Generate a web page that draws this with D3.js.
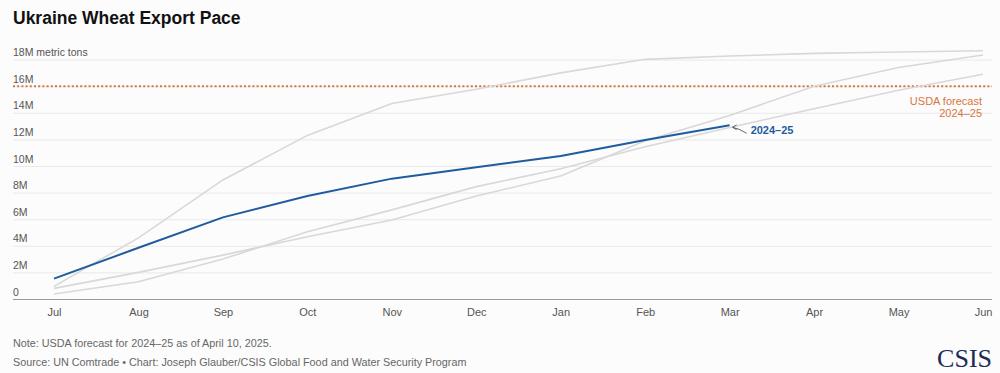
<!DOCTYPE html>
<html>
<head>
<meta charset="utf-8">
<script src="https://cdn.jsdelivr.net/npm/d3@7"></script>
<style>
	body { margin: 0; background: #fcfcfc; }
	svg { display: block; font-family: "Liberation Sans", Arial, sans-serif; }
	.grid line { stroke: #e9e9e9; }
	.grid text { fill: #555; font-size: 10.5px; }
	.xaxis text { fill: #555; font-size: 11px; }
	.foot { fill: #666; font-size: 10.8px; }
</style>
</head>
<body>
<div id="viz"></div>
<script>
// months of the marketing year
var months = ['Jul','Aug','Sep','Oct','Nov','Dec','Jan','Feb','Mar','Apr','May','Jun'];

// cumulative exports, million metric tons
var current = [1.53, 3.85, 6.14, 7.74, 9.05, 9.9, 10.75, 11.95, 13.06];
var pastA = [0.95, 4.6, 8.95, 12.3, 14.7, 15.77, 17.0, 18.02, 18.27, 18.47, 18.57, 18.67];
var pastB = [0.38, 1.3, 3.0, 5.06, 6.7, 8.45, 9.8, 11.45, 12.9, 14.3, 15.7, 16.9];
var pastC = [0.8, 2.0, 3.3, 4.68, 5.94, 7.74, 9.25, 11.9, 13.8, 16.0, 17.4, 18.35];
var forecast = 16;

var yTicks = [0, 2, 4, 6, 8, 10, 12, 14, 16, 18];

buildViz();

function buildViz(){

	var width = 1000,
			height = 373,
			left = 13,
			right = 992;

	var svg = d3.select('#viz')
		.append('svg')
		.attr('width', width)
		.attr('height', height);

	var x = d3.scalePoint()
		.domain(months)
		.range([54, 983]);

	var y = d3.scaleLinear()
		.domain([0, 18])
		.range([299, 59.6]);

	// title
	svg.append('text')
		.attr('x', left)
		.attr('y', 24)
		.style('font-size', '17.5px')
		.style('font-weight', 'bold')
		.style('fill', '#111')
		.text('Ukraine Wheat Export Pace');

	// grid + y labels
	var grid = svg.append('g')
		.attr('class', 'grid')
		.attr('transform', 'translate(' + right + ',0)')
		.call(d3.axisLeft(y)
			.tickValues(yTicks)
			.tickSize(right - left)
			.tickFormat(function(d){
				if (d === 0) return '0';
				if (d === 18) return '18M metric tons';
				return d + 'M';
			}));
	grid.select('.domain').remove();
	grid.selectAll('.tick text')
		.attr('x', -(right - left))
		.attr('dy', -4)
		.attr('text-anchor', 'start');
	grid.selectAll('.tick line')
		.filter(function(d){ return d === 0; })
		.remove();

	// x axis
	var xAxis = svg.append('g')
		.attr('class', 'xaxis')
		.attr('transform', 'translate(0,' + y(0) + ')')
		.call(d3.axisBottom(x).tickSize(0).tickPadding(9));
	xAxis.select('.domain').remove();
	xAxis.append('line')
		.attr('x1', left)
		.attr('x2', right)
		.attr('y1', 0.5)
		.attr('y2', 0.5)
		.style('stroke', '#999')
		.style('stroke-width', 1);

	// forecast line
	svg.append('line')
		.attr('x1', left)
		.attr('x2', right)
		.attr('y1', y(forecast))
		.attr('y2', y(forecast))
		.style('stroke', '#d9763e')
		.style('stroke-width', 2)
		.style('stroke-dasharray', '2,2.2');

	svg.append('text')
		.attr('x', 982)
		.attr('y', y(forecast) + 19)
		.attr('text-anchor', 'end')
		.style('font-size', '11px')
		.style('fill', '#d9763e')
		.selectAll('tspan')
		.data(['USDA forecast', '2024–25'])
		.enter().append('tspan')
			.attr('x', 982)
			.attr('dy', function(d,i){ return i ? 12 : 0; })
			.text(function(d){ return d; });

	var line = d3.line()
		.x(function(d,i){ return x(months[i]); })
		.y(function(d){ return y(d); });

	svg.selectAll('.past')
		.data([pastA, pastB, pastC])
		.enter().append('path')
			.attr('class', 'past')
			.attr('d', line)
			.style('fill', 'none')
			.style('stroke', '#d8d8d8')
			.style('stroke-width', 1.6);

	svg.append('path')
		.attr('d', line(current))
		.style('fill', 'none')
		.style('stroke', '#1f5c9e')
		.style('stroke-width', 2);

	// label for current season
	var ex = x(months[current.length - 1]),
			ey = y(current[current.length - 1]);

	svg.append('path')
		.attr('d', 'M' + (ex + 17) + ',' + (ey + 8) + 'Q' + (ex + 9) + ',' + (ey + 3) + ' ' + (ex + 3) + ',' + (ey + 2))
		.style('fill', 'none')
		.style('stroke', '#444')
		.style('stroke-width', 0.8);
	svg.append('path')
		.attr('d', 'M' + (ex + 7) + ',' + (ey - 0.5) + 'L' + (ex + 3) + ',' + (ey + 2) + 'L' + (ex + 7) + ',' + (ey + 4.5))
		.style('fill', 'none')
		.style('stroke', '#444')
		.style('stroke-width', 0.8);

	svg.append('text')
		.attr('x', ex + 21)
		.attr('y', ey + 9)
		.style('font-size', '11px')
		.style('font-weight', 'bold')
		.style('fill', '#1f5c9e')
		.text('2024–25');

	// footer
	svg.append('text')
		.attr('class', 'foot')
		.attr('x', left)
		.attr('y', 347)
		.text('Note: USDA forecast for 2024–25 as of April 10, 2025.');
	svg.append('text')
		.attr('class', 'foot')
		.attr('x', left)
		.attr('y', 366)
		.text('Source: UN Comtrade • Chart: Joseph Glauber/CSIS Global Food and Water Security Program');

	svg.append('text')
		.attr('x', right)
		.attr('y', 367)
		.attr('text-anchor', 'end')
		.style('font-family', '"Liberation Serif", "DejaVu Serif", serif')
		.style('font-size', '26px')
		.style('fill', '#1b2a56')
		.text('CSIS');
}
</script>
</body>
</html>
